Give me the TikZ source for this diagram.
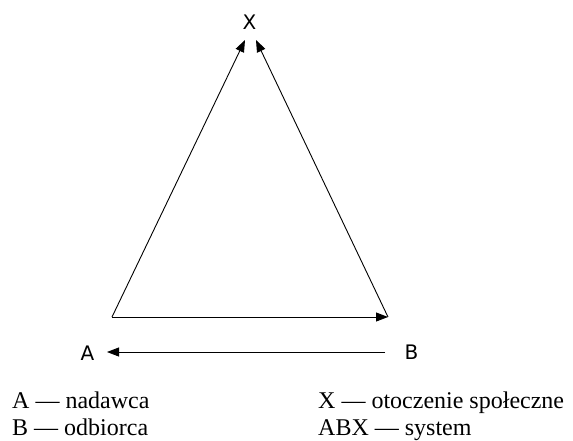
\documentclass[tikz,border=0pt]{standalone}
\usepackage{fontspec}
\setmainfont{Liberation Serif}
\newfontfamily\labfont{DejaVu Sans}
\usetikzlibrary{arrows.meta}
\begin{document}
\begin{tikzpicture}[x=1pt,y=-1pt,
  con/.style={line width=0.9pt,-{Triangle[length=12pt,width=9pt]}},
  lab/.style={font=\labfont\fontsize{20}{24}\selectfont,inner sep=0pt},
  leg/.style={font=\fontsize{24}{28}\selectfont,inner sep=0pt,anchor=base west}]
\useasboundingbox (0,0) rectangle (573,440);
\node[lab] (X) at (249.5,22.5) {X};
\node[lab] (A) at (87.5,353) {A};
\node[lab] (B) at (411.5,352.5) {B};
\coordinate (pA) at (112,317);
\coordinate (pB) at (388,317);
\coordinate (tL) at (245,40);
\coordinate (tR) at (256,40);
\coordinate (bR) at (385,352);
\coordinate (bL) at (107,352);
\draw[con] (pA) -- (tL);
\draw[con] (pB) -- (tR);
\draw[con] (pA) -- (pB);
\draw[con] (bR) -- (bL);
\node[leg] (l1) at (12,408) {A — nadawca};
\node[leg] (l2) at (12,435) {B — odbiorca};
\node[leg] (l3) at (318,408) {X — otoczenie społeczne};
\node[leg] (l4) at (318,435) {ABX — system};
\end{tikzpicture}
\end{document}
